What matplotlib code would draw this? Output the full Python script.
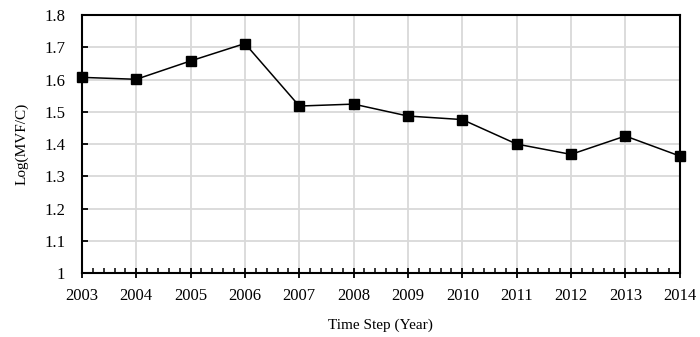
import matplotlib
matplotlib.use("Agg")
import matplotlib.pyplot as plt
from matplotlib.ticker import MultipleLocator, FuncFormatter

# data
years = [2003, 2004, 2005, 2006, 2007, 2008, 2009, 2010, 2011, 2012, 2013, 2014]
log_mvf_c = [1.607, 1.601, 1.658, 1.712, 1.518, 1.524, 1.487, 1.476, 1.400, 1.368, 1.425, 1.363]

plt.rcParams['font.family'] = ['Liberation Serif', 'DejaVu Serif']
plt.rcParams['font.size'] = 12

fig = plt.figure(figsize=(7.0, 3.37), dpi=100)
ax = fig.add_axes([0.117, 0.19, 0.854, 0.765])

ax.grid(True, color='#d9d9d9', linewidth=1.3, zorder=0)
ax.plot(years, log_mvf_c, color='black', linewidth=1.1, marker='s',
        markersize=7, zorder=3, clip_on=False)

ax.set_xlim(2003, 2014)
ax.set_ylim(1.0, 1.8)
ax.xaxis.set_major_locator(MultipleLocator(1))
ax.xaxis.set_minor_locator(MultipleLocator(0.2))
ax.yaxis.set_major_locator(MultipleLocator(0.1))
ax.yaxis.set_major_formatter(FuncFormatter(lambda v, p: '{:g}'.format(round(v, 1))))

ax.tick_params(axis='x', which='major', direction='inout', length=7, width=1.3, pad=7)
ax.tick_params(axis='x', which='minor', direction='in', length=3.5, width=1.1)
ax.tick_params(axis='y', which='major', direction='in', length=4, width=1.3, pad=12)

for s in ax.spines.values():
    s.set_linewidth(1.5)
    s.set_color('black')

ax.set_xlabel('Time Step (Year)', fontsize=11, labelpad=11)
ax.set_ylabel('Log(MVF/C)', fontsize=11, labelpad=11)

fig.savefig('out.png', dpi=100)
